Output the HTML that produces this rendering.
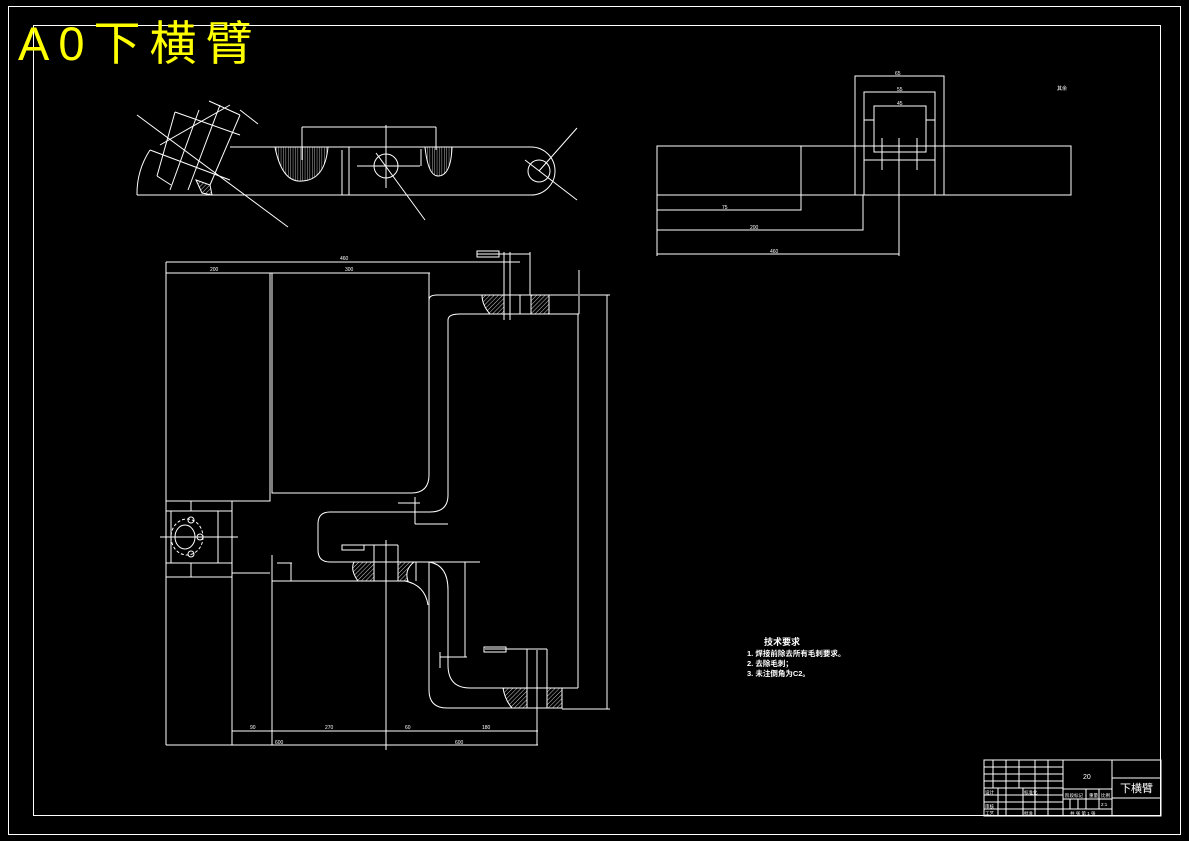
<!DOCTYPE html>
<html><head><meta charset="utf-8"><style>
html,body{margin:0;padding:0;background:#000;}
svg{display:block}
text{font-family:"Liberation Sans","Noto Sans CJK SC",sans-serif;fill:#fff}
</style></head><body>
<svg width="1189" height="841" viewBox="0 0 1189 841" xmlns="http://www.w3.org/2000/svg">
<defs>
<pattern id="h" width="3" height="3" patternUnits="userSpaceOnUse" patternTransform="rotate(45)"><line x1="0" y1="0" x2="0" y2="3" stroke="#fff" stroke-width="0.8"/></pattern>
<pattern id="v" width="2.4" height="4" patternUnits="userSpaceOnUse"><line x1="0" y1="0" x2="0" y2="4" stroke="#fff" stroke-width="0.7"/></pattern>
</defs>
<rect width="1189" height="841" fill="#000"/>
<g fill="none" stroke="#fff" stroke-width="1">
<rect x="8.5" y="6.5" width="1172" height="828"/>
<rect x="33.5" y="25.5" width="1127" height="790"/>

<path d="M137 195 H531 A24 24 0 0 0 531 147 H230"/>
<path d="M137 195 A80 80 0 0 1 150 150"/>
<line x1="349" y1="147" x2="349" y2="195"/>
<path d="M275 147 Q282 183 302 181 Q325 180 328 147 Z" fill="url(#v)"/>
<path d="M425 147 Q428 176 438 176 Q451 176 452 147 Z" fill="url(#v)"/>
<circle cx="386" cy="166" r="12"/>
<line x1="357" y1="166" x2="420" y2="166"/>
<line x1="386" y1="150" x2="386" y2="188"/>
<line x1="376" y1="153" x2="425" y2="220"/>
<circle cx="539" cy="171" r="11"/>
<line x1="525" y1="160" x2="577" y2="200"/>
<line x1="539" y1="171" x2="577" y2="128"/>
<line x1="302" y1="127" x2="302" y2="160"/>
<line x1="302" y1="127" x2="436" y2="127"/>
<line x1="436" y1="127" x2="436" y2="150"/>
<line x1="386" y1="125" x2="386" y2="150"/>
<line x1="342" y1="150" x2="342" y2="195"/>
<line x1="421" y1="149" x2="421" y2="166"/>
<line x1="137" y1="115" x2="288" y2="227"/>
<line x1="209" y1="101" x2="240" y2="115"/>
<line x1="240" y1="115" x2="210" y2="185"/>
<line x1="175" y1="112" x2="157" y2="176"/>
<line x1="157" y1="176" x2="171" y2="185"/>
<line x1="175" y1="112" x2="240" y2="135"/>
<line x1="150" y1="150" x2="230" y2="180"/>
<line x1="199" y1="110" x2="170" y2="190"/>
<line x1="220" y1="105" x2="188" y2="190"/>
<line x1="240" y1="110" x2="258" y2="124"/>
<line x1="160" y1="145" x2="230" y2="105"/>
<path d="M196 180 L210 185 L212 195 L202 193 Z" fill="url(#h)"/>
<rect x="657" y="146" width="414" height="49"/>
<line x1="801" y1="146" x2="801" y2="195"/>
<path d="M855 195 V76 H944 V195"/>
<path d="M864 195 V92 H935 V195"/>
<rect x="874" y="106" width="52" height="46"/>
<line x1="864" y1="120" x2="874" y2="120"/><line x1="926" y1="120" x2="935" y2="120"/>
<line x1="864" y1="160" x2="935" y2="160"/>
<line x1="882" y1="138" x2="882" y2="170"/><line x1="917" y1="138" x2="917" y2="170"/>
<line x1="899" y1="138" x2="899" y2="256"/>
<line x1="657" y1="195" x2="657" y2="256"/>
<path d="M657 210 H801 V195"/>
<path d="M657 230 H863 V195"/>
<line x1="657" y1="254" x2="899" y2="254"/>

<rect x="166" y="273" width="104" height="228"/>
<path d="M272 273 H429 V475 Q429 493 411 493 H272 Z"/>
<path d="M429 300 Q429 295 437 295 H578"/>
<path d="M448 320 Q448 314 460 314 H579"/>
<path d="M448 320 V495 Q448 512 430 512 H330 Q318 512 318 524 V550 Q318 562 330 562 H480"/>
<line x1="578" y1="314" x2="578" y2="688"/>
<line x1="607" y1="295" x2="607" y2="709"/>
<line x1="580" y1="295" x2="610" y2="295"/>
<line x1="562" y1="709" x2="610" y2="709"/>
<path d="M429 562 Q448 565 448 590 V665 Q448 688 470 688 H578"/>
<path d="M429 562 V690 Q429 708 447 708 H562"/>
<line x1="272" y1="581" x2="405" y2="581"/>
<path d="M405 581 Q425 585 428 605"/>
<line x1="416" y1="562" x2="416" y2="581"/>
<line x1="398" y1="562" x2="398" y2="581"/>
<path d="M482 295 L504 295 L504 314 L490 314 Q482 305 482 295 Z" fill="url(#h)"/>
<rect x="531" y="295" width="18" height="19" fill="url(#h)"/>
<line x1="520" y1="295" x2="520" y2="314"/>
<line x1="504" y1="252" x2="504" y2="320"/>
<line x1="510" y1="252" x2="510" y2="320"/>
<line x1="530" y1="252" x2="530" y2="295"/>
<path d="M354 562 L374 562 L374 581 L358 581 Q350 570 354 562 Z" fill="url(#h)"/>
<path d="M398 562 L414 562 Q404 570 408 581 L398 581 Z" fill="url(#h)"/>
<line x1="374" y1="545" x2="374" y2="581"/>
<line x1="398" y1="545" x2="398" y2="562"/>
<line x1="386" y1="540" x2="386" y2="750"/>
<path d="M503 688 L527 688 L527 708 L512 708 Q505 700 503 688 Z" fill="url(#h)"/>
<rect x="547" y="688" width="15" height="20" fill="url(#h)"/>
<line x1="537" y1="650" x2="537" y2="745"/>
<line x1="527" y1="649" x2="527" y2="688"/>
<line x1="547" y1="649" x2="547" y2="688"/>
<rect x="166" y="501" width="66" height="76"/>
<line x1="171" y1="511" x2="171" y2="563"/>
<line x1="218" y1="511" x2="218" y2="563"/>
<line x1="166" y1="511" x2="232" y2="511"/>
<line x1="166" y1="563" x2="232" y2="563"/>
<line x1="191" y1="501" x2="191" y2="511"/><line x1="191" y1="563" x2="191" y2="577"/>
<ellipse cx="185" cy="537" rx="10" ry="12"/>
<ellipse cx="187" cy="537" rx="16" ry="18" stroke-dasharray="3 2"/>
<line x1="160" y1="537" x2="238" y2="537"/>
<circle cx="200" cy="537" r="3"/><circle cx="191" cy="520" r="3"/><circle cx="191" cy="554" r="3"/>
<line x1="232" y1="577" x2="232" y2="745"/>
<line x1="232" y1="573" x2="270" y2="573"/>
<line x1="272" y1="555" x2="272" y2="745"/>
<line x1="166" y1="577" x2="166" y2="745"/>
<line x1="166" y1="262" x2="166" y2="273"/>
<line x1="166" y1="262" x2="520" y2="262"/>
<line x1="166" y1="273" x2="430" y2="273"/>
<line x1="232" y1="731" x2="538" y2="731"/>
<line x1="166" y1="745" x2="538" y2="745"/>
<line x1="579" y1="270" x2="579" y2="314"/>
<line x1="415" y1="497" x2="415" y2="524"/>
<line x1="398" y1="503" x2="420" y2="503"/>
<line x1="415" y1="524" x2="448" y2="524"/>
<line x1="291" y1="563" x2="291" y2="581"/>
<line x1="277" y1="563" x2="292" y2="563"/>
<line x1="465" y1="562" x2="465" y2="657"/>
<line x1="440" y1="657" x2="467" y2="657"/>
<line x1="440" y1="652" x2="440" y2="668"/>
<line x1="485" y1="649" x2="547" y2="649"/>
<line x1="355" y1="545" x2="398" y2="545"/>
<line x1="477" y1="254" x2="530" y2="254"/>
<rect x="477" y="251" width="22" height="6"/>
<rect x="342" y="545" width="22" height="5"/>
<rect x="484" y="647" width="22" height="5"/>
<rect x="984" y="760" width="177" height="56"/>
<line x1="1063" y1="760" x2="1063" y2="816"/>
<line x1="1112" y1="760" x2="1112" y2="816"/>
<line x1="1112" y1="778" x2="1161" y2="778"/>
<line x1="1112" y1="798" x2="1161" y2="798"/>
<line x1="1063" y1="789" x2="1112" y2="789"/>
<line x1="1063" y1="799" x2="1112" y2="799"/>
<line x1="1063" y1="809" x2="1112" y2="809"/>
<line x1="1086" y1="789" x2="1086" y2="809"/><line x1="1099" y1="789" x2="1099" y2="809"/>
<line x1="1070" y1="799" x2="1070" y2="809"/><line x1="1078" y1="799" x2="1078" y2="809"/>
<line x1="984" y1="767" x2="1063" y2="767"/>
<line x1="984" y1="774" x2="1063" y2="774"/>
<line x1="984" y1="781" x2="1063" y2="781"/>
<line x1="984" y1="788" x2="1063" y2="788"/>
<line x1="984" y1="795" x2="1063" y2="795"/>
<line x1="984" y1="802" x2="1063" y2="802"/>
<line x1="984" y1="809" x2="1063" y2="809"/>
<line x1="993" y1="760" x2="993" y2="788"/><line x1="998" y1="788" x2="998" y2="816"/>
<line x1="1006" y1="760" x2="1006" y2="816"/>
<line x1="1019" y1="760" x2="1019" y2="788"/>
<line x1="1023" y1="788" x2="1023" y2="816"/>
<line x1="1035" y1="760" x2="1035" y2="816"/>
<line x1="1048" y1="760" x2="1048" y2="816"/>
</g>
<text x="18" y="60" font-size="47" letter-spacing="9" style="fill:#ff0">A0下横臂</text>
<g font-size="5">
<text x="340" y="260">460</text><text x="210" y="271">200</text><text x="345" y="271">300</text>
<text x="275" y="744">600</text><text x="455" y="744">600</text>
<text x="250" y="729">90</text><text x="325" y="729">270</text><text x="405" y="729">60</text><text x="482" y="729">180</text>
<text x="722" y="209">75</text><text x="750" y="229">200</text><text x="770" y="253">460</text>
<text x="895" y="75">65</text><text x="897" y="91">55</text><text x="897" y="105">45</text>
<text x="1057" y="90">其余</text>
</g>
<g font-size="7.5" font-weight="bold">
<text x="764" y="645" font-size="9">技术要求</text>
<text x="747" y="656">1. 焊接前除去所有毛刺要求。</text>
<text x="747" y="666">2. 去除毛刺；</text>
<text x="747" y="676">3. 未注倒角为C2。</text>
</g>
<text x="1083" y="779" font-size="7">20</text>
<text x="1120" y="792" font-size="11">下横臂</text>
<g font-size="4.5"><text x="1065" y="797">阶段标记</text><text x="1089" y="797">重量</text><text x="1101" y="797">比例</text><text x="1101" y="806">2:1</text><text x="1070" y="815">共 张 第 1 张</text>
<text x="985" y="794">设计</text><text x="985" y="808">审核</text><text x="985" y="815">工艺</text><text x="1024" y="794">标准化</text><text x="1024" y="815">批准</text></g>
</svg>
</body></html>
